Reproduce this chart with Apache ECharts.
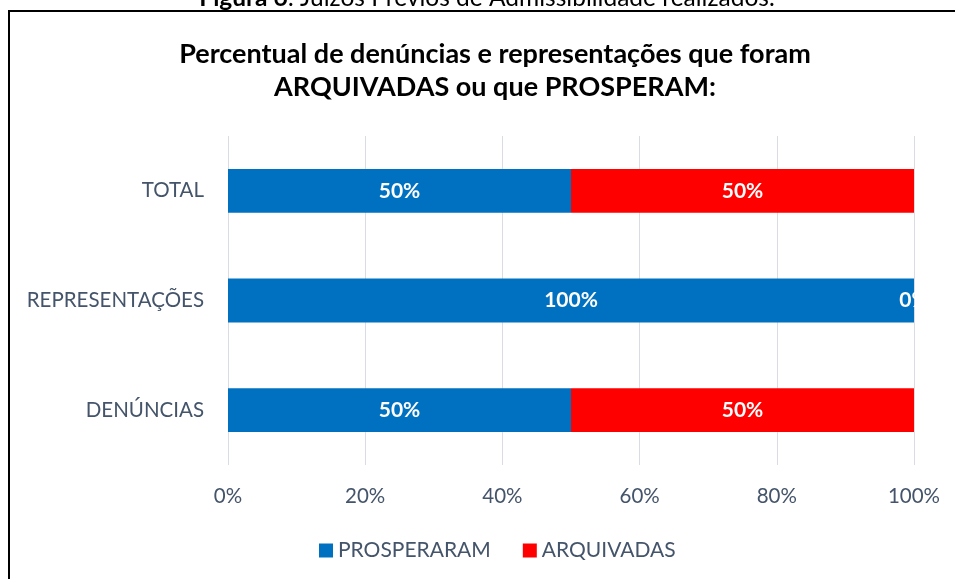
<!DOCTYPE html>
<html>
<head>
<meta charset="utf-8">
<script src="https://cdn.jsdelivr.net/npm/echarts@6/dist/echarts.min.js"></script>
<style>
  html, body { margin: 0; padding: 0; background: #fff; }
  #main { width: 955px; height: 579px; }
</style>
</head>
<body>
<div id="main"></div>
<script>
var categories = ["DENÚNCIAS", "REPRESENTAÇÕES", "TOTAL"];
var prosperaram = [50, 100, 50];
var arquivadas = [50, 0, 50];
var xTicks = [0, 20, 40, 60, 80, 100];

var FONT = "Lato";
var myChart = echarts.init(document.getElementById("main"));

function pct(p) {
  return p.value + "%";
}

var option = {
  backgroundColor: "#ffffff",
  animation: false,
  title: {
    text: "Percentual de denúncias e representações que foram\nARQUIVADAS ou que PROSPERAM:",
    left: 490,
    top: 33,
    textAlign: "center",
    textStyle: {
      fontFamily: FONT,
      fontWeight: "bold",
      fontSize: 27,
      lineHeight: 33,
      color: "#000"
    }
  },
  legend: {
    top: 535,
    left: 314,
    icon: "rect",
    itemWidth: 14,
    itemHeight: 14,
    itemGap: 32,
    textStyle: { fontFamily: FONT, fontSize: 21, color: "#44546a" },
    data: ["PROSPERARAM", "ARQUIVADAS"]
  },
  grid: { left: 228, right: 41, top: 136, bottom: 114 },
  xAxis: {
    type: "value",
    min: 0,
    max: 100,
    interval: 20,
    axisLine: { show: false },
    axisTick: { show: false },
    splitLine: { lineStyle: { color: "#d9dce3", width: 1 } },
    axisLabel: {
      margin: 21,
      fontFamily: FONT,
      fontSize: 20.5,
      color: "#44546a",
      formatter: function (v) { return xTicks.indexOf(v) >= 0 ? v + "%" : ""; }
    }
  },
  yAxis: {
    type: "category",
    data: categories,
    axisLine: { show: false },
    axisTick: { show: false },
    axisLabel: { margin: 24, fontFamily: FONT, fontSize: 20.5, color: "#44546a" }
  },
  series: [
    {
      name: "PROSPERARAM",
      type: "bar",
      stack: "s",
      data: prosperaram,
      barWidth: "40%",
      itemStyle: { color: "#0070c0" },
      label: {
        show: true, position: "inside", formatter: pct,
        fontFamily: FONT, fontWeight: "bold", fontSize: 21, color: "#fff"
      }
    },
    {
      name: "ARQUIVADAS",
      type: "bar",
      stack: "s",
      data: arquivadas,
      barWidth: "40%",
      itemStyle: { color: "#ff0000" },
      label: {
        show: true, position: "inside", formatter: pct,
        fontFamily: FONT, fontWeight: "bold", fontSize: 21, color: "#fff"
      }
    }
  ],
  graphic: [
    {
      // hides the part of the "0%" label that falls outside the plot
      type: "rect",
      z: 100,
      shape: { x: 915, y: 270, width: 38, height: 60 },
      style: { fill: "#fff" }
    },
    {
      type: "text",
      z: 100,
      x: 487,
      y: -14,
      style: {
        text: "{b|Figura 6}: Juízos Prévios de Admissibilidade realizados.",
        align: "center",
        fontFamily: FONT,
        fontSize: 24.5,
        fill: "#000",
        rich: { b: { fontFamily: FONT, fontSize: 24.5, fontWeight: "bold", fill: "#000" } }
      }
    },
    {
      type: "rect",
      z: 100,
      shape: { x: 9, y: 11, width: 980, height: 600 },
      style: { fill: null, stroke: "#000", lineWidth: 2 }
    }
  ]
};

myChart.setOption(option);
</script>
</body>
</html>
